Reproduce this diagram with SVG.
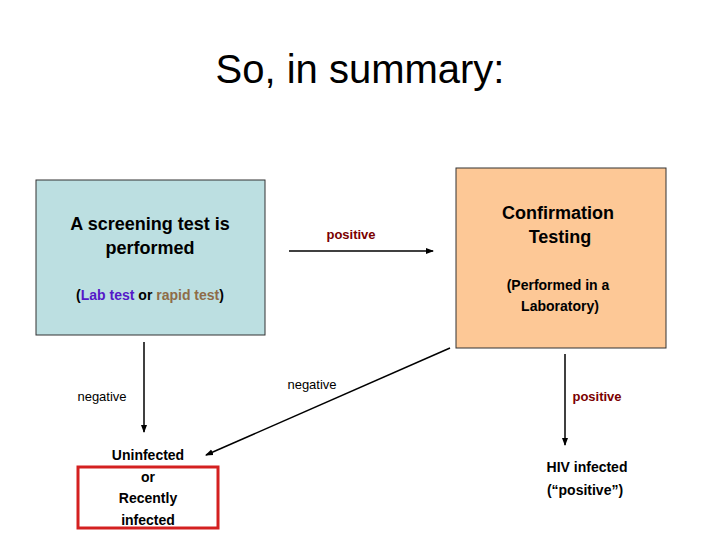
<svg xmlns="http://www.w3.org/2000/svg" width="720" height="540" viewBox="0 0 720 540">
<style>
text{font-family:"Liberation Sans",Arial,sans-serif;font-weight:bold;text-anchor:middle}
.t{font-size:18px;fill:#000}
.l{font-size:14px;fill:#000}
.s{font-size:13px;fill:#7a0000}
.n{font-size:13px;fill:#000;font-weight:normal}
.c{stroke:#000;stroke-width:1.5;fill:none;marker-end:url(#a)}
</style>
<defs><marker id="a" markerWidth="8" markerHeight="8" refX="7" refY="4" orient="auto" markerUnits="userSpaceOnUse"><path d="M0,1 L8,4 L0,7 Z" fill="#000"/></marker></defs>
<rect width="720" height="540" fill="#fff"/>
<text x="360" y="83" style="font-size:40px;font-weight:normal">So, in summary:</text>
<g id="screen">
<rect x="36" y="180" width="229" height="155" fill="#bcdfe1" stroke="#333" stroke-width="1"/>
<text class="t" x="150" y="230">A screening test is</text>
<text class="t" x="150" y="254">performed</text>
<text class="l" x="150" y="300">(<tspan fill="#5518c8">Lab test</tspan> or <tspan fill="#8e6c48">rapid test</tspan>)</text>
</g>
<g id="confirm">
<rect x="456" y="168" width="210" height="180" fill="#fdc896" stroke="#333" stroke-width="1"/>
<text class="t" x="558" y="219">Confirmation</text>
<text class="t" x="560" y="243">Testing</text>
<text class="l" x="558" y="290">(Performed in a</text>
<text class="l" x="560" y="311">Laboratory)</text>
</g>
<g id="uninfected">
<rect x="78" y="467" width="140" height="61" fill="none" stroke="#d42020" stroke-width="3"/>
<text class="l" x="148" y="460">Uninfected</text>
<text class="l" x="148" y="482">or</text>
<text class="l" x="148" y="503">Recently</text>
<text class="l" x="148" y="525">infected</text>
</g>
<g id="hiv">
<text class="l" x="587" y="472">HIV infected</text>
<text class="l" x="585" y="495">(“positive”)</text>
</g>
<g id="connectors">
<line class="c" x1="289" y1="251" x2="433" y2="251"/>
<line class="c" x1="144" y1="342" x2="144" y2="432"/>
<line class="c" x1="450" y1="348" x2="206" y2="455"/>
<line class="c" x1="565" y1="354" x2="565" y2="445"/>
<text class="s" x="351" y="239">positive</text>
<text class="n" x="102" y="401">negative</text>
<text class="n" x="312" y="389">negative</text>
<text class="s" x="597" y="401">positive</text>
</g>
</svg>
